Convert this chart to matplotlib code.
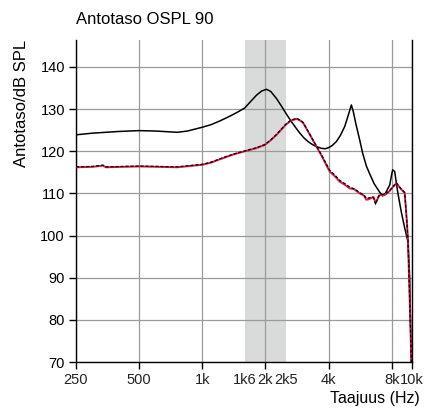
import matplotlib
matplotlib.use('Agg')
import matplotlib.pyplot as plt
from matplotlib.ticker import FixedLocator, NullFormatter

plt.rcParams['font.family'] = ['Liberation Sans Narrow', 'Liberation Sans', 'DejaVu Sans']

# Upper black curve (solid)
f_top = [250, 300, 400, 500, 600, 760, 850, 1000, 1100, 1213, 1300, 1400, 1500, 1596, 1700,
         1813, 1920, 2024, 2120, 2260, 2400, 2520, 2663, 2800, 2920, 3050, 3195, 3350, 3505,
         3700, 3850, 3980, 4150, 4360, 4560, 4780, 4950, 5140, 5250, 5400, 5630, 5820, 6060,
         6290, 6600, 7010, 7250, 7500, 7830, 8000, 8090, 8270, 8420, 8570, 8900, 9230, 9570,
         9750, 9930]
spl_top = [123.9, 124.3, 124.7, 124.9, 124.8, 124.5, 124.8, 125.7, 126.3, 127.2, 127.9, 128.7, 129.5, 130.3, 131.8,
           133.3, 134.3, 134.7, 134.2, 132.5, 130.5, 128.8, 127.0, 125.5, 124.3, 123.2, 122.3, 121.6, 121.1,
           120.7, 120.6, 120.8, 121.3, 122.3, 123.8, 125.9, 128.3, 131.0, 129.4, 126.5, 122.7, 119.5, 116.5,
           114.6, 112.3, 110.3, 109.4, 110.2, 112.0, 114.5, 115.6, 115.2, 112.5, 110.0, 105.5, 101.8, 98.5,
           90.0, 70.0]

# Lower curve, red solid
f_red = [250, 300, 336, 347, 500, 760, 1000, 1100, 1213, 1400, 1596, 1800, 1987, 2120, 2260,
         2500, 2650, 2822, 2950, 3030, 3260, 3505, 3700, 4050, 4300, 4520, 4800, 5045, 5300,
         5630, 5900, 6060, 6200, 6400, 6550, 6710, 6900, 7010, 7410, 7800, 8100, 8420, 8800,
         9230, 9430, 9570, 9740, 9930]
spl_red = [116.2, 116.3, 116.6, 116.2, 116.4, 116.2, 116.8, 117.3, 118.1, 119.2, 120.0, 120.7, 121.5, 122.6, 123.9,
           126.3, 127.3, 127.7, 127.2, 126.7, 123.9, 121.1, 119.0, 115.2, 114.0, 112.8, 112.0, 111.2, 111.0,
           110.0, 109.5, 108.5, 108.6, 108.9, 109.2, 107.7, 109.0, 109.6, 109.6, 110.5, 111.5, 112.4, 111.2,
           110.1, 104.0, 99.0, 85.5, 70.0]

# Lower curve, black dashed
f_dash = [250, 300, 336, 347, 500, 760, 1000, 1100, 1213, 1400, 1596, 1800, 1987, 2120, 2260,
          2500, 2650, 2822, 2950, 3030, 3260, 3505, 3700, 4050, 4300, 4520, 4800, 5045, 5300,
          5630, 5900, 6060, 6200, 6400, 6550, 6710, 6900, 7010, 7410, 7800, 8100, 8420, 8800,
          9230, 9430, 9570, 9740, 9930]
spl_dash = [116.3, 116.4, 116.7, 116.3, 116.5, 116.3, 116.9, 117.4, 118.2, 119.3, 120.1, 120.8, 121.6, 122.7, 124.0,
            126.4, 127.4, 127.8, 127.3, 126.8, 124.0, 121.2, 119.2, 115.5, 114.3, 113.1, 112.3, 111.5, 111.1,
            110.2, 109.6, 108.8, 108.9, 109.1, 109.0, 107.4, 109.2, 109.7, 109.8, 110.6, 111.6, 112.5, 111.3,
            110.2, 104.0, 99.0, 85.5, 70.0]

band = (1600, 2500)
major_ticks = [250, 500, 1000, 2000, 4000, 8000, 10000]
major_labels = ['250', '500', '1k', '2k', '4k', '8k', '10k']
minor_ticks = [1600, 2500]
minor_labels = ['1k6', '2k5']
y_ticks = [70, 80, 90, 100, 110, 120, 130, 140]

fig = plt.figure(figsize=(4.24, 4.09), dpi=100)
ax = fig.add_axes([76 / 424, 1 - 362 / 409, 336 / 424, 322 / 409])

ax.axvspan(band[0], band[1], color='#d9dbdb', lw=0, zorder=0)

ax.plot(f_top, spl_top, color='black', lw=1.1, zorder=3)
ax.plot(f_red, spl_red, color='#dc1846', lw=1.4, zorder=3)
ax.plot(f_dash, spl_dash, color='black', lw=0.9, ls=(0, (2.5, 1.5)), zorder=4)

ax.set_xscale('log')
ax.set_xlim(250, 10000)
ax.set_ylim(70, 146.4)

ax.xaxis.set_major_locator(FixedLocator(major_ticks))
ax.set_xticklabels(major_labels)
ax.xaxis.set_minor_locator(FixedLocator(minor_ticks))
ax.xaxis.set_minor_formatter(NullFormatter())
ax.set_xticks(minor_ticks, minor_labels, minor=True)
ax.set_yticks(y_ticks)

ax.grid(True, which='major', color='#9a9a9a', lw=0.9, zorder=1)
ax.set_axisbelow(True)
ax.tick_params(which='major', direction='out', length=5, width=1, colors='black', labelsize=10.5, pad=3)
ax.tick_params(which='minor', length=0, labelsize=10.5, pad=8)
for lbl in ax.get_xticklabels(minor=False) + ax.get_xticklabels(minor=True):
    lbl.set_color('#222222')

ax.spines['top'].set_visible(False)
for s in ['left', 'bottom', 'right']:
    ax.spines[s].set_color('black')
    ax.spines[s].set_linewidth(1.0)

fig.text(76 / 424, 1 - 20 / 409, 'Antotaso OSPL 90', fontsize=12,
         family=['Liberation Sans', 'DejaVu Sans'], ha='left', va='center')
fig.text(22 / 424, 1 - 40 / 409, 'Antotaso/dB SPL', fontsize=12, rotation=90,
         family=['Liberation Sans', 'DejaVu Sans'], ha='center', va='top')
fig.text(420 / 424, 1 - 398 / 409, 'Taajuus (Hz)', fontsize=11.5,
         family=['Liberation Sans', 'DejaVu Sans'], ha='right', va='center')

fig.savefig('out.png', dpi=100)
